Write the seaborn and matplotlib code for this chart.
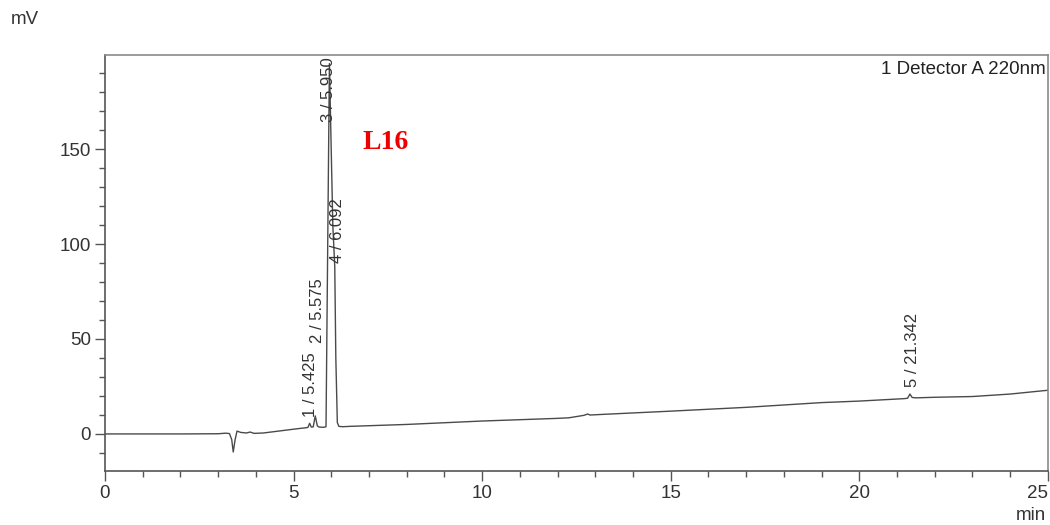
import numpy as np
import pandas as pd
import matplotlib
matplotlib.use("Agg")
import matplotlib.pyplot as plt
from matplotlib.ticker import MultipleLocator
import seaborn as sns

# ---- data ----
time_min = [0.0, 1.0, 2.0, 3.0, 3.2, 3.3, 3.36, 3.4, 3.45, 3.5, 3.6, 3.75, 3.85, 3.95,
            4.2, 4.6, 5.0, 5.3, 5.38, 5.425, 5.47, 5.52, 5.575, 5.63, 5.68, 5.8, 5.86,
            5.95, 6.04, 6.092, 6.12, 6.16, 6.2, 6.3, 6.5, 8.0, 10.0, 12.0, 12.3, 12.7,
            12.8, 12.85, 12.9, 13.2, 15.0, 17.0, 19.0, 20.0, 21.2, 21.28, 21.342, 21.4,
            21.5, 22.0, 23.0, 24.0, 25.0]
signal_mv = [0.0, 0.0, 0.0, 0.1, 0.4, 0.2, -3.0, -9.5, -3.0, 1.5, 0.8, 0.5, 1.0, 0.3,
             0.5, 1.5, 2.5, 3.2, 3.4, 5.6, 3.6, 3.7, 9.5, 4.2, 3.6, 3.5, 3.8,
             195.0, 110.0, 88.0, 40.0, 6.0, 4.0, 3.8, 4.0, 5.0, 6.8, 8.2, 8.5, 9.8,
             10.5, 10.0, 10.0, 10.3, 12.0, 14.0, 16.5, 17.3, 18.6, 18.8, 21.0, 19.2,
             19.0, 19.3, 19.7, 21.0, 23.0]

peak_ids = [1, 2, 3, 4, 5]
peak_times = [5.425, 5.575, 5.950, 6.092, 21.342]
peak_text = ["1 / 5.425", "2 / 5.575", "3 / 5.950", "4 / 6.092", "5 / 21.342"]

x_ticks = [0, 5, 10, 15, 20, 25]
y_ticks = [0, 50, 100, 150]

sample_name = "L16"
detector_name = "1 Detector A 220nm"

# ---- layout ----
label_bottom_mv = [9, 48, None, 90, 24.5]   # None -> pinned to top of axes
label_dx = [0.03, 0.05, -0.02, 0.07, 0.07]

sns.set_theme(style="ticks")
plt.rcParams["font.family"] = ["Liberation Sans", "DejaVu Sans"]

fig = plt.figure(figsize=(10.5, 5.25), dpi=100)
ax = fig.add_axes([0.1, 0.1029, 0.898, 0.7923])

df = pd.DataFrame({"t": time_min, "mv": signal_mv})
sns.lineplot(data=df, x="t", y="mv", ax=ax, color="#4a4a4a", linewidth=1.0,
             estimator=None, sort=False)

ax.set_xlim(0, 25)
ax.set_ylim(-19.5, 199.5)
ax.set_xlabel("")
ax.set_ylabel("")
ax.set_xticks(x_ticks)
ax.set_yticks(y_ticks)
ax.xaxis.set_minor_locator(MultipleLocator(1))
ax.yaxis.set_minor_locator(MultipleLocator(10))
ax.tick_params(axis="both", which="both", bottom=True, left=True, top=False, right=False)
ax.tick_params(axis="both", which="major", direction="out", length=7, width=1,
               color="#555555", labelsize=13.5, labelcolor="#333333", pad=3)
ax.tick_params(axis="both", which="minor", direction="out", length=4, width=1,
               color="#555555")
for side in ["left", "bottom"]:
    ax.spines[side].set_color("#555555")
    ax.spines[side].set_linewidth(1.2)
for side in ["top", "right"]:
    ax.spines[side].set_visible(True)
    ax.spines[side].set_color("#8a8a8a")
    ax.spines[side].set_linewidth(1.2)
ax.grid(False)

# keep the last x tick label inside the figure
ax.get_xticklabels()[-1].set_horizontalalignment("right")

ytop = ax.get_ylim()[1]
for i, txt in enumerate(peak_text):
    xb = peak_times[i] + label_dx[i]
    if label_bottom_mv[i] is None:
        ax.text(xb, ytop - 1, txt, rotation=90, ha="center", va="top",
                fontsize=12, color="#333333")
    else:
        ax.text(xb, label_bottom_mv[i], txt, rotation=90, ha="center", va="bottom",
                fontsize=12, color="#333333")

ax.text(6.84, 153.5, sample_name, color="#ee0000", fontsize=20, fontweight="bold",
        family=["Liberation Serif", "DejaVu Serif"], ha="left", va="center")
ax.text(0.998, 0.965, detector_name, transform=ax.transAxes, ha="right", va="center",
        fontsize=13.5, color="#222222")

fig.text(25 / 1050, 1 - 20 / 525, "mV", ha="center", va="center", fontsize=13.5,
         color="#333333")
fig.text(1031 / 1050, 1 - 515 / 525, "min", ha="center", va="center", fontsize=13.5,
         color="#333333")

fig.savefig("out.png", dpi=100, facecolor="white")
